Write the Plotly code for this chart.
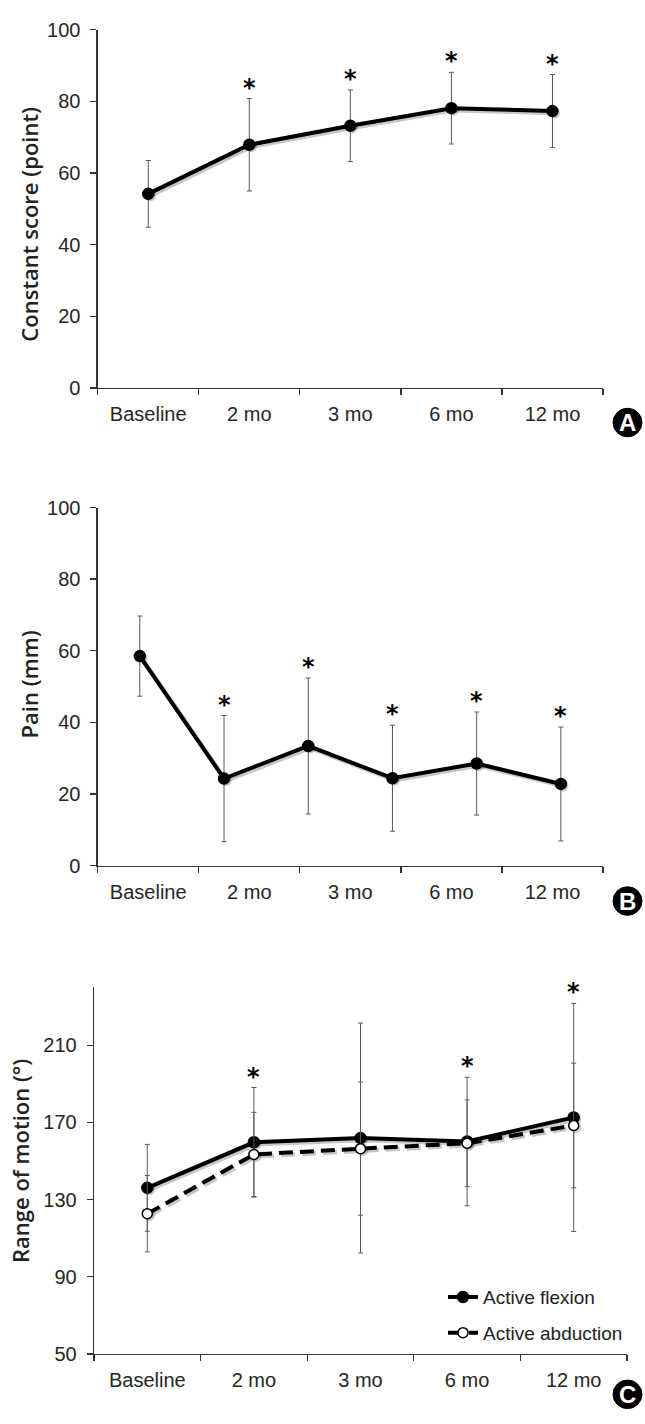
import plotly.graph_objects as go

# ---------------- data ----------------
categories = ["Baseline", "2 mo", "3 mo", "6 mo", "12 mo"]

constant_mean = [54.2, 67.9, 73.2, 78.1, 77.3]
constant_sd = [9.3, 12.9, 10.0, 10.0, 10.2]
constant_sig = [False, True, True, True, True]

pain_mean = [58.5, 24.3, 33.4, 24.4, 28.5, 22.8]
pain_sd = [11.2, 17.6, 19.0, 14.8, 14.4, 15.9]
pain_sig = [False, True, True, True, True, True]

flexion_mean = [136.1, 159.7, 161.9, 160.1, 172.6]
flexion_sd = [22.5, 28.4, 59.6, 33.3, 59.1]
abduction_mean = [122.7, 153.4, 156.4, 159.2, 168.4]
abduction_sd = [19.8, 21.8, 34.5, 22.5, 32.3]
rom_sig = [False, True, False, True, True]

constant_ticks = [0, 20, 40, 60, 80, 100]
pain_ticks = [0, 20, 40, 60, 80, 100]
rom_ticks = [50, 90, 130, 170, 210]

# ---------------- layout helpers ----------------
W, H = 645, 1424


def xdom(left, right, dx=0):
    return [(left + dx) / W, (right + dx) / W]


def ydom(top, bottom, dy=0):
    return [1 - (bottom + dy) / H, 1 - (top + dy) / H]


n_cat = len(categories)
x_cat = [i + 0.5 for i in range(n_cat)]
x_pain = [(i + 0.5) * n_cat / len(pain_mean) for i in range(len(pain_mean))]

TICK_FONT = dict(family="Liberation Sans, Arial, sans-serif", size=20, color="#262626")
AX_COLOR = "#333"
ERR = dict(type="data", color="#5a5a5a", thickness=1, width=2.5)
SHADOW = "rgba(0,0,0,0.22)"

panels = [  # (x-left, x-right, y-top, y-bottom, y-range, ticks)
    (97.7, 603, 19, 383, [0, 100], constant_ticks),
    (97.7, 603, 504.3, 868, [0, 100], pain_ticks),
    (94, 627, 991.7, 1364, [50, 240], rom_ticks),
]

fig = go.Figure()


def shadow_trace(x, y, xa, ya, dash="solid"):
    return go.Scatter(
        x=x, y=y, mode="lines+markers", hoverinfo="skip",
        line=dict(color=SHADOW, width=4.5, dash=dash),
        marker=dict(size=11, color=SHADOW),
        xaxis=xa, yaxis=ya, showlegend=False, cliponaxis=False)


def main_trace(x, y, sd, xa, ya, name=None, filled=True, dash="solid", legend=False):
    return go.Scatter(
        x=x, y=y, mode="lines+markers", name=name,
        line=dict(color="black", width=4, dash=dash),
        marker=dict(size=11 if filled else 10,
                    color="black" if filled else "white",
                    line=dict(color="black", width=1.5)),
        error_y=dict(ERR, array=sd),
        xaxis=xa, yaxis=ya, showlegend=legend, cliponaxis=False,
        legendgroup=name,
    )


DASH = "14px,7px"
# soft drop shadows (drawn on hidden, slightly offset axes underneath)
fig.add_trace(shadow_trace(x_cat, constant_mean, "x", "y"))
fig.add_trace(shadow_trace(x_pain, pain_mean, "x2", "y2"))
fig.add_trace(shadow_trace(x_cat, flexion_mean, "x3", "y3"))
fig.add_trace(shadow_trace(x_cat, abduction_mean, "x3", "y3", dash=DASH))

fig.add_trace(main_trace(x_cat, constant_mean, constant_sd, "x4", "y4"))
fig.add_trace(main_trace(x_pain, pain_mean, pain_sd, "x5", "y5"))
fig.add_trace(main_trace(x_cat, flexion_mean, flexion_sd, "x6", "y6",
                         name="Active flexion", legend=True))
fig.add_trace(main_trace(x_cat, abduction_mean, abduction_sd, "x6", "y6",
                         name="Active abduction", filled=False,
                         dash=DASH, legend=True))

annotations = []


def add_stars(xs, tops, sig, xa, ya):
    for x, t, flag in zip(xs, tops, sig):
        if flag:
            annotations.append(dict(
                x=x, y=t, xref=xa, yref=ya, text="*", showarrow=False,
                yanchor="bottom", yshift=-5,
                font=dict(family="DejaVu Sans", size=24, color="black", weight="bold")))


add_stars(x_cat, [m + s for m, s in zip(constant_mean, constant_sd)], constant_sig, "x4", "y4")
add_stars(x_pain, [m + s for m, s in zip(pain_mean, pain_sd)], pain_sig, "x5", "y5")
rom_top = [max(f + fs, a + as_) for f, fs, a, as_ in
           zip(flexion_mean, flexion_sd, abduction_mean, abduction_sd)]
add_stars(x_cat, rom_top, rom_sig, "x6", "y6")

# axis titles
TITLE_FONT = dict(family="Open Sans, sans-serif", size=22, color="#222", weight=600)
for text, cx, cy in [("Constant score (point)", 29, 217),
                     ("Pain (mm)", 29, 684),
                     ("Range of motion (°)", 20, 1168)]:
    annotations.append(dict(x=cx / W, y=1 - cy / H, xref="paper", yref="paper",
                            text=text, textangle=-90, showarrow=False,
                            xanchor="center", yanchor="middle", font=TITLE_FONT))

# panel letters
shapes = []
for letter, cy in [("A", 418), ("B", 904), ("C", 1405)]:
    cx, r = 627.5, 14.5
    shapes.append(dict(type="circle", xref="paper", yref="paper",
                       x0=(cx - r) / W, x1=(cx + r) / W,
                       y0=1 - (cy + r) / H, y1=1 - (cy - r) / H,
                       fillcolor="black", line=dict(color="black", width=1)))
    annotations.append(dict(x=cx / W, y=1 - cy / H, xref="paper", yref="paper",
                            text=f"<b>{letter}</b>", showarrow=False,
                            xanchor="center", yanchor="middle",
                            font=dict(family="Liberation Sans, Arial", size=24, color="white")))


def xaxis_cfg(domain, anchor):
    return dict(
        domain=domain, anchor=anchor, range=[0, n_cat],
        tickmode="array", tickvals=x_cat, ticktext=categories,
        ticks="", ticklabelstandoff=8, tickfont=TICK_FONT,
        minor=dict(tickmode="array", tickvals=list(range(n_cat + 1)),
                   ticks="outside", ticklen=6, tickwidth=1.3, tickcolor=AX_COLOR),
        showline=True, linecolor=AX_COLOR, linewidth=1.3,
        showgrid=False, zeroline=False, fixedrange=True,
    )


def yaxis_cfg(domain, anchor, rng, ticks):
    return dict(
        domain=domain, anchor=anchor, range=rng,
        tickmode="array", tickvals=ticks,
        ticks="outside", ticklen=6, tickwidth=1.3, tickcolor=AX_COLOR,
        ticklabelstandoff=6, tickfont=TICK_FONT,
        showline=True, linecolor=AX_COLOR, linewidth=1.3,
        showgrid=False, zeroline=False, fixedrange=True,
    )


def hidden_axis(domain, anchor, rng):
    return dict(domain=domain, anchor=anchor, range=rng, visible=False,
                showgrid=False, zeroline=False, fixedrange=True)


layout_axes = {}
for i, (xl, xr, yt, yb, yr, tk) in enumerate(panels):
    s = "" if i == 0 else str(i + 1)
    m = str(i + 4)
    layout_axes["xaxis" + s] = hidden_axis(xdom(xl, xr, 2), "y" + s, [0, n_cat])
    layout_axes["yaxis" + s] = hidden_axis(ydom(yt, yb, 2), "x" + s, yr)
    layout_axes["xaxis" + m] = xaxis_cfg(xdom(xl, xr), "y" + m)
    layout_axes["yaxis" + m] = yaxis_cfg(ydom(yt, yb), "x" + m, yr, tk)

fig.update_layout(
    width=W, height=H,
    margin=dict(l=0, r=0, t=0, b=0),
    paper_bgcolor="white", plot_bgcolor="rgba(0,0,0,0)",
    legend=dict(x=443 / W, xanchor="left", y=1 - 1287 / H, yanchor="top",
                font=dict(family="Liberation Sans, Arial", size=19, color="#222"),
                bgcolor="rgba(0,0,0,0)", tracegroupgap=8, traceorder="grouped"),
    annotations=annotations,
    shapes=shapes,
    showlegend=True,
    **layout_axes,
)

fig.write_html("out.html",
               config={"displayModeBar": False, "staticPlot": True},
               post_script="document.body.style.margin='0';"
                           "document.body.style.overflow='hidden';")
